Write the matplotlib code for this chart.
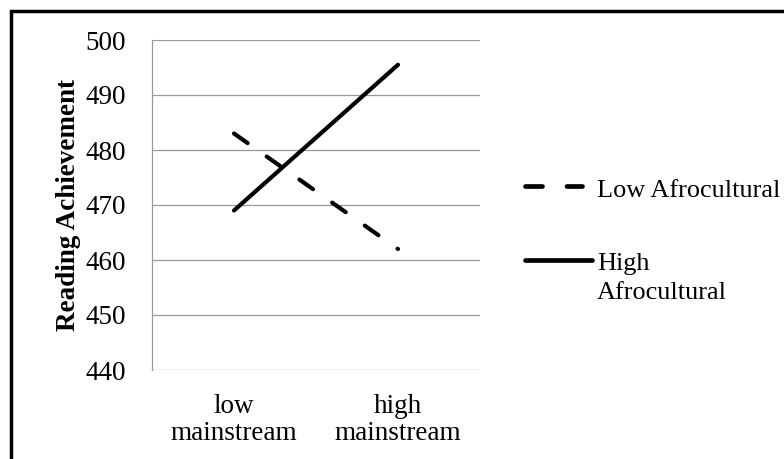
import matplotlib.pyplot as plt
from matplotlib.lines import Line2D
from matplotlib.patches import Rectangle

plt.rcParams['font.family'] = ['Liberation Serif', 'DejaVu Serif']

# data
categories = ['low\nmainstream', 'high\nmainstream']
low_afro = [483, 462]
high_afro = [469, 495.5]
yticks = [440, 450, 460, 470, 480, 490, 500]

FS = 19.5
W, H = 784, 459
fig = plt.figure(figsize=(W/100, H/100), dpi=100)
ax = fig.add_axes([152/W, 1 - 370/H, (480 - 152)/W, (370 - 40)/H])

x = range(len(categories))
ax.plot(x, low_afro, color='black', lw=3, linestyle=(0, (4, 5.6)),
        dash_capstyle='round', solid_capstyle='round')
ax.plot(x, high_afro, color='black', lw=3, solid_capstyle='round')

ax.set_xlim(-0.5, 1.5)
ax.set_ylim(440, 500)
ax.set_yticks(yticks)
ax.set_xticks(list(x))
ax.set_xticklabels(categories, linespacing=1.1)
ax.yaxis.grid(True, color='#999999', lw=0.9)
ax.set_axisbelow(True)
for s in ['top', 'right', 'bottom']:
    ax.spines[s].set_visible(False)
ax.spines['left'].set_color('#999999')
ax.spines['left'].set_linewidth(0.9)
ax.tick_params(axis='y', length=0, pad=19, labelsize=FS)
ax.tick_params(axis='x', length=0, pad=17, labelsize=FS)
ax.set_ylabel('Reading Achievement', fontsize=FS, fontweight='bold', labelpad=3)

# legend drawn by hand, Excel style
def fx(px):
    return px / W

def fy(py):
    return 1 - py / H

fig.add_artist(Line2D([fx(525), fx(582)], [fy(186), fy(186)], color='black', lw=3.4,
                      linestyle=(0, (3.6, 5.2)), dash_capstyle='round'))
fig.text(fx(597), fy(197), 'Low Afrocultural', fontsize=18.9, va='baseline')
fig.add_artist(Line2D([fx(525), fx(592)], [fy(260), fy(260)], color='black', lw=3.4,
                      solid_capstyle='round'))
fig.text(fx(597), fy(270), 'High', fontsize=18.9, va='baseline')
fig.text(fx(597), fy(299), 'Afrocultural', fontsize=18.9, va='baseline')

# chart border
fig.add_artist(Rectangle((fx(11), fy(470)), fx(800), 459/H, transform=fig.transFigure,
                         fill=False, edgecolor='black', lw=2.5))

fig.savefig('out.png', dpi=100)
